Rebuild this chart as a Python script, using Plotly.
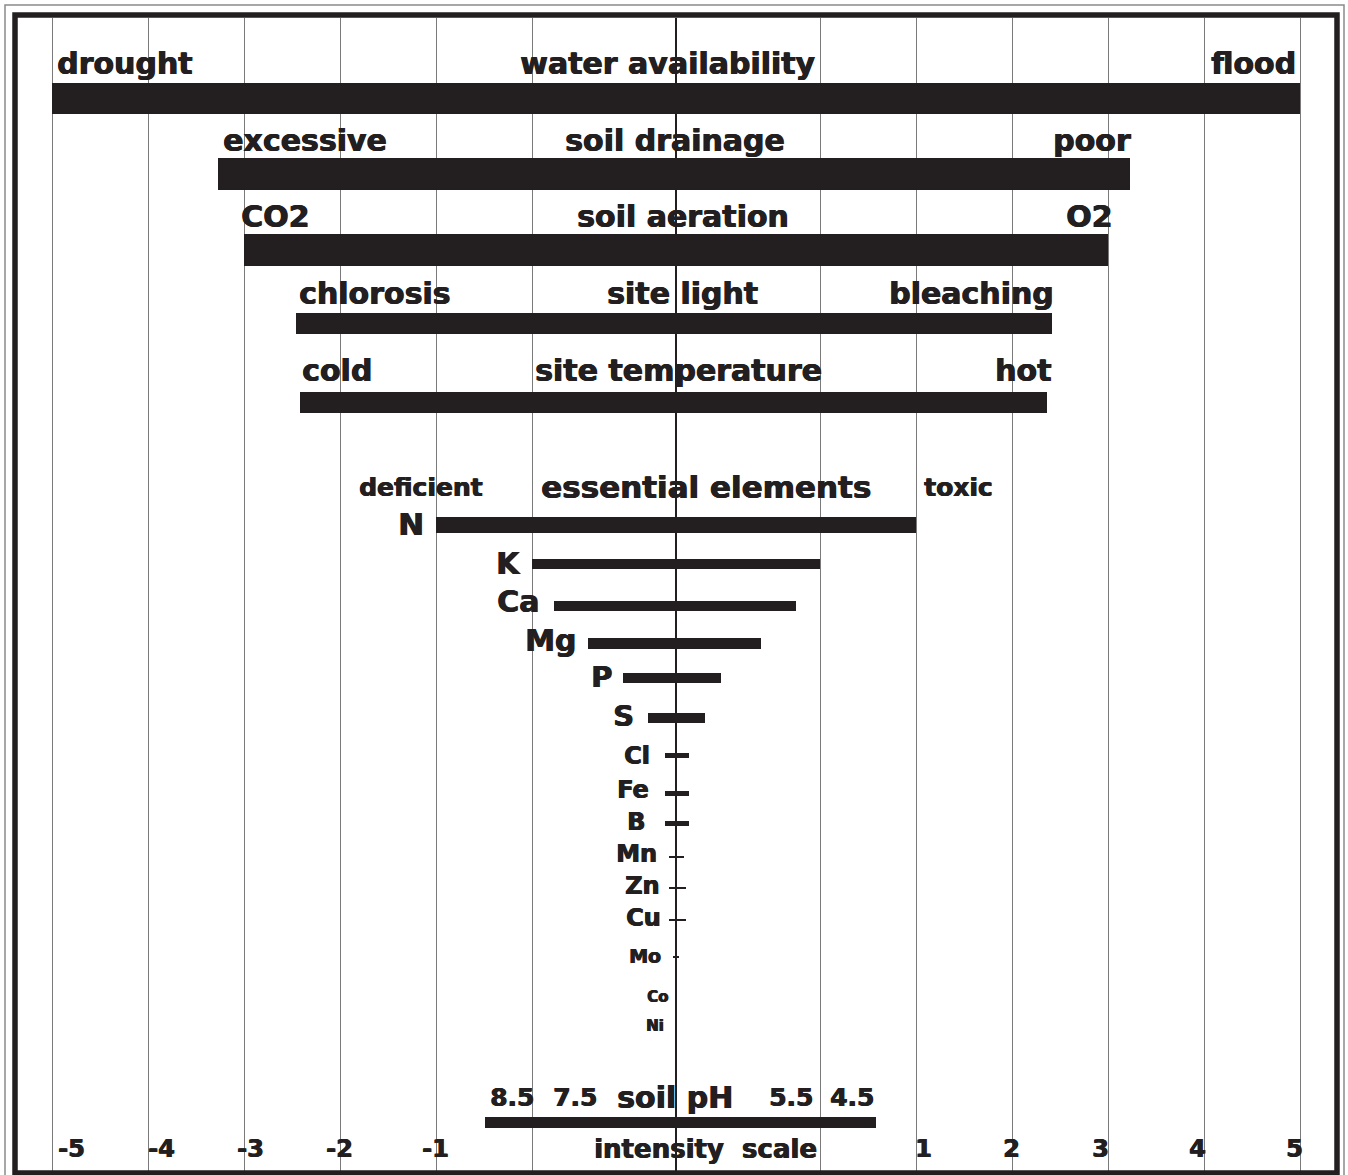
import plotly.graph_objects as go

# ---------------- data ----------------
# bar extents in grid units (one unit = spacing of the outer grid lines)
bar_names = ["water availability", "soil drainage", "soil aeration", "site light",
             "site temperature", "N", "K", "Ca", "Mg", "P", "S", "Cl", "Fe", "B",
             "Mn", "Zn", "Cu", "Mo", "Co", "Ni", "soil pH"]
bar_low = [-6.5, -4.77, -4.5, -3.96, -3.92, -2.5, -1.5, -1.27, -0.92, -0.55, -0.29,
           -0.115, -0.115, -0.115, -0.073, -0.073, -0.073, -0.03, 0.0, 0.0, -1.99]
bar_high = [6.5, 4.73, 4.5, 3.92, 3.86, 2.5, 1.5, 1.25, 0.89, 0.47, 0.30,
            0.135, 0.135, 0.135, 0.083, 0.104, 0.104, 0.03, 0.0, 0.0, 2.08]

# row labels: (left text, centre text, right text)
row_left = ["drought", "excessive", "CO2", "chlorosis", "cold", "deficient"]
row_mid = ["water availability", "soil drainage", "soil aeration", "site light",
           "site temperature", "essential elements"]
row_right = ["flood", "poor", "O2", "bleaching", "hot", "toxic"]

element_labels = ["N", "K", "Ca", "Mg", "P", "S", "Cl", "Fe", "B", "Mn", "Zn", "Cu",
                  "Mo", "Co", "Ni"]

ph_labels = ["8.5", "7.5", "soil pH", "5.5", "4.5"]

tick_labels = ["-5", "-4", "-3", "-2", "-1", "1", "2", "3", "4", "5"]
axis_title = "intensity&nbsp; scale"

grid_vals = [-6.5, -5.5, -4.5, -3.5, -2.5, -1.5, 1.5, 2.5, 3.5, 4.5, 5.5, 6.5]

# ---------------- layout helpers ----------------
W, H = 1348, 1175
PL, PR, PT, PB = 18, 1335, 18, 1171      # plot area in pixels
CX, UNIT = 676.0, 96.0                   # centre pixel and pixels per unit


def ux(px):
    return (px - CX) / UNIT


def paper_x(px):
    return (px - PL) / (PR - PL)


def paper_y(py):
    return (PB - py) / (PB - PT)


INK = "#231f20"
FONT = "DejaVu Sans"
HEAVY = "0.7px 0px 0px #231f20, -0.3px 0px 0px #231f20"

# bar row centres (y, pixels) and thickness
bar_y = [98.5, 174, 249.5, 323.5, 402, 525, 564, 606, 643.5, 677.5, 718, 755, 793, 823,
         857, 888, 920, 957, 997, 1027, 1122.5]
bar_th = [31, 32, 32, 21, 21, 16, 10, 10, 10.5, 10, 10.5, 5, 5, 5, 2.5, 1.8, 1.8, 1.3,
          0, 0, 11]

fig = go.Figure()
fig.add_trace(go.Bar(
    orientation="h",
    y=bar_y,
    base=bar_low,
    x=[h - l for l, h in zip(bar_low, bar_high)],
    width=bar_th,
    marker=dict(color=INK, line=dict(width=0)),
    hovertext=bar_names,
    hoverinfo="text",
    showlegend=False,
))

ann = []


def add_text(text, x_px, y_px, size, anchor="left"):
    ann.append(dict(text="<b>%s</b>" % text, x=ux(x_px), y=y_px, xref="x", yref="y",
                    xanchor=anchor, yanchor="middle", showarrow=False, borderpad=0,
                    font=dict(family=FONT, size=size, color=INK, shadow=HEAVY)))


row_text_y = [63, 140, 216, 293, 370, 487]
left_x = [56, 222, 240, 298, 301, 358]
mid_x = [519, 564, 576, 606, 534, 540]
right_x = [1297, 1132, 1113, 1055, 1052, 923]
for i in range(6):
    small = 25 if i == 5 else 30
    mid_size = 31 if i == 5 else 30
    add_text(row_left[i], left_x[i], row_text_y[i], small, "left")
    add_text(row_mid[i], mid_x[i], row_text_y[i], mid_size, "left")
    if i == 5:
        add_text(row_right[i], right_x[i], row_text_y[i], small, "left")
    else:
        add_text(row_right[i], right_x[i], row_text_y[i], 30, "right")

el_right = [425, 522, 540, 577, 613, 635, 651, 650, 646, 658, 661, 662, 662, 669, 665]
el_y = [524, 563, 601, 640, 677, 716, 756, 790, 822, 854, 886, 918, 956, 997, 1026]
el_size = [31, 30, 30, 30, 29, 29, 24, 24, 24, 24, 24, 24, 19, 15, 15]
for t, xr, yy, s in zip(element_labels, el_right, el_y, el_size):
    add_text(t, xr, yy, s, "right")

ph_x = [489, 552, 616, 768, 829]
ph_size = [25, 25, 30, 25, 25]
for t, xl, s in zip(ph_labels, ph_x, ph_size):
    add_text(t, xl, 1097, s, "left")

tick_cx = [71, 161, 250, 339, 435, 923, 1011, 1100, 1197, 1294]
for t, cx in zip(tick_labels, tick_cx):
    add_text(t, cx, 1149, 24, "center")
add_text(axis_title, 593, 1149, 26, "left")

shapes = [
    # outer thin frame
    dict(type="rect", xref="paper", yref="paper",
         x0=paper_x(5), x1=paper_x(1344), y0=paper_y(1190), y1=paper_y(5),
         line=dict(color="#8a8a8a", width=1.5), layer="above"),
    # thick black frame
    dict(type="rect", xref="paper", yref="paper",
         x0=paper_x(15), x1=paper_x(1337), y0=paper_y(1173), y1=paper_y(15),
         line=dict(color=INK, width=5.5), layer="above"),
]

fig.update_layout(
    width=W, height=H,
    margin=dict(l=PL, r=W - PR, t=PT, b=H - PB),
    paper_bgcolor="white", plot_bgcolor="white",
    annotations=ann, shapes=shapes,
    bargap=0,
    xaxis=dict(range=[ux(PL), ux(PR)], tickvals=grid_vals, showticklabels=False,
               ticks="", showgrid=True, gridcolor="#7a7a7a", gridwidth=1,
               zeroline=True, zerolinecolor=INK, zerolinewidth=2.2, showline=False,
               fixedrange=True),
    yaxis=dict(range=[PB, PT], showgrid=False, zeroline=False, showticklabels=False,
               ticks="", showline=False, fixedrange=True),
    showlegend=False,
)

fig.write_html("out.html", config={"displayModeBar": False},
               post_script="document.body.style.margin='0';document.body.style.overflow='hidden';")
